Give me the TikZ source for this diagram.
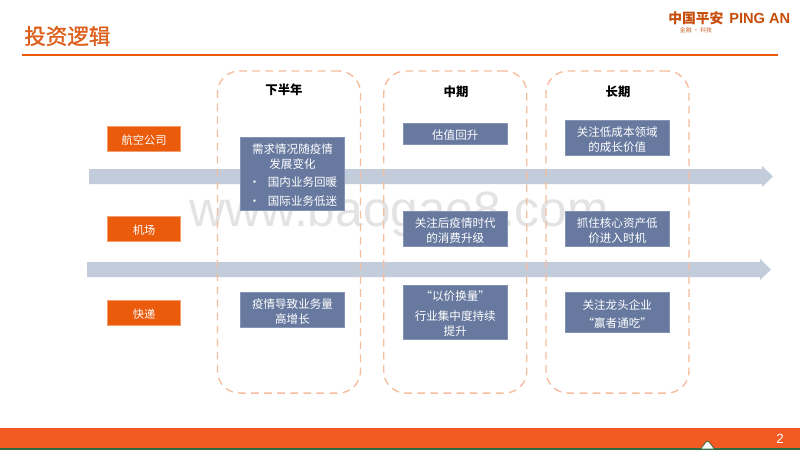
\documentclass[tikz,border=0pt]{standalone}
\usepackage{fontspec}
\setmainfont{Noto Sans CJK SC}
\newfontfamily\titlefont[FakeBold=1.2]{Noto Sans CJK SC}
\newfontfamily\latinfont{Liberation Sans}
\usepackage{xcolor}
\definecolor{pinganorange}{HTML}{EA5B0C}
\definecolor{titleorange}{HTML}{DE5F1C}
\definecolor{barorange}{HTML}{F15A22}
\definecolor{boxblue}{HTML}{67799F}
\definecolor{arrowblue}{HTML}{C2CCDB}
\definecolor{dashorange}{HTML}{F5BE9E}
\definecolor{logogreen}{HTML}{2F6B3C}
\newcommand{\toprule}{\rule{0pt}{9.4pt}}
\tikzset{
	sectorbox/.style={draw=pinganorange!60!white,line width=0.4pt,fill=pinganorange,text=white,inner sep=0pt,minimum width=1.825cm,minimum height=0.625cm,font=\fontsize{8}{10}\selectfont},
	viewbox/.style={draw=boxblue!80,line width=0.4pt,fill=boxblue,text=white,inner sep=0pt,minimum width=2.6cm,align=center,font=\fontsize{8.2}{10.7}\selectfont},
	phasebox/.style={draw=dashorange,line width=1pt,dash pattern=on 5.5pt off 3.8pt,rounded corners=0.55cm,inner sep=0pt,minimum width=3.575cm,minimum height=8.05cm},
	phaselabel/.style={text=black,inner sep=0pt,font=\fontsize{8.8}{10}\selectfont\bfseries},
	trackarrow/.style={fill=arrowblue,draw=none}
}
\begin{document}
\begin{tikzpicture}[x=0.025cm,y=-0.025cm]
	\useasboundingbox (0,0) rectangle (800,450);
	\fill[white] (0,0) rectangle (800,450);
	% title
	\node[anchor=west,inner sep=0pt,text=titleorange,font=\titlefont\fontsize{15.3}{18}\selectfont] (title) at (24,36) {投资逻辑};
	\fill[pinganorange] (22,54.2) rectangle (778,55.8); % rule
	% logo
	\node[anchor=west,inner sep=0pt,text=pinganorange!85!black,font=\fontsize{9.8}{12}\selectfont\bfseries] (logocn) at (668,18) {中国平安};
	\node[anchor=west,inner sep=0pt,text=pinganorange!85!black,font=\latinfont\fontsize{10.4}{12}\selectfont\bfseries] (logoen) at (729,18) {PING AN};
	\node[inner sep=0pt,text=pinganorange!70!gray,font=\fontsize{4.2}{5}\selectfont] (logosub) at (696,30.5) {金融 · 科技};
	% watermark
	\node[anchor=base,inner sep=0pt,text=black!11,font=\latinfont\fontsize{35.3}{40}\selectfont] (mark) at (399,226) {www.baogao8.com};
	% arrows
	\fill[trackarrow] (89,169) -- (762,169) -- (762,166) -- (773,176.5) -- (762,187) -- (762,184) -- (89,184) -- cycle;
	\fill[trackarrow] (87,262) -- (760,262) -- (760,259) -- (771,269.5) -- (760,280) -- (760,277) -- (87,277) -- cycle;
	% phases
	\node[phasebox] (phaseA) at (289,232) {};
	\node[phasebox] (phaseB) at (455.25,232) {};
	\node[phasebox] (phaseC) at (617.5,232) {};
	\node[phaselabel] (labelA) at (284,89.5) {下半年};
	\node[phaselabel] (labelB) at (456,92) {中期};
	\node[phaselabel] (labelC) at (618,92) {长期};
	% sectors
	\node[sectorbox] (airline) at (144,138.5) {\toprule 航空公司};
	\node[sectorbox] (airport) at (144,228.5) {\toprule 机场};
	\node[sectorbox] (express) at (144,312.5) {\toprule 快递};
	% airline row
	\node[viewbox,minimum height=1.825cm] (airlineA) at (292.5,173.5) {\toprule 需求情况随疫情\\发展变化\\[2.2pt]
		\makebox[61.9pt][l]{\makebox[13.5pt][l]{•}国内业务回暖}\\[3pt]
		\makebox[61.9pt][l]{\makebox[13.5pt][l]{•}国际业务低迷}};
	\node[viewbox,minimum height=0.525cm] (airlineB) at (455.25,133.5) {\toprule 估值回升};
	\node[viewbox,minimum height=0.875cm] (airlineC) at (617.25,137.5) {\toprule 关注低成本领域\\的成长价值};
	% airport row
	\node[viewbox,minimum height=0.875cm] (airportB) at (455.25,228.5) {\toprule 关注后疫情时代\\的消费升级};
	\node[viewbox,minimum height=0.875cm] (airportC) at (617.25,228.5) {\toprule 抓住核心资产低\\价进入时机};
	% express row
	\node[viewbox,minimum height=0.8875cm] (expressA) at (292.5,309.75) {\toprule 疫情导致业务量\\高增长};
	\node[viewbox,minimum height=1.35cm] (expressB) at (455.25,312) {\toprule “以价换量”\\[3pt]行业集中度持续\\提升};
	\node[viewbox,minimum height=1cm] (expressC) at (617.25,312) {\toprule 关注龙头企业\\[2.3pt]“赢者通吃”};
	% footer
	\fill[barorange] (0,428) rectangle (800,448);
	\fill[logogreen] (0,448) rectangle (800,450);
	\filldraw[fill=white,draw=logogreen,line width=0.5pt] (700.5,449) -- (706,442) -- (707.5,441) -- (709,442) -- (714.5,449) -- cycle;
	\node[inner sep=0pt,text=white,font=\latinfont\fontsize{9.5}{11}\selectfont] (pageno) at (780,439) {2};
\end{tikzpicture}
\end{document}
